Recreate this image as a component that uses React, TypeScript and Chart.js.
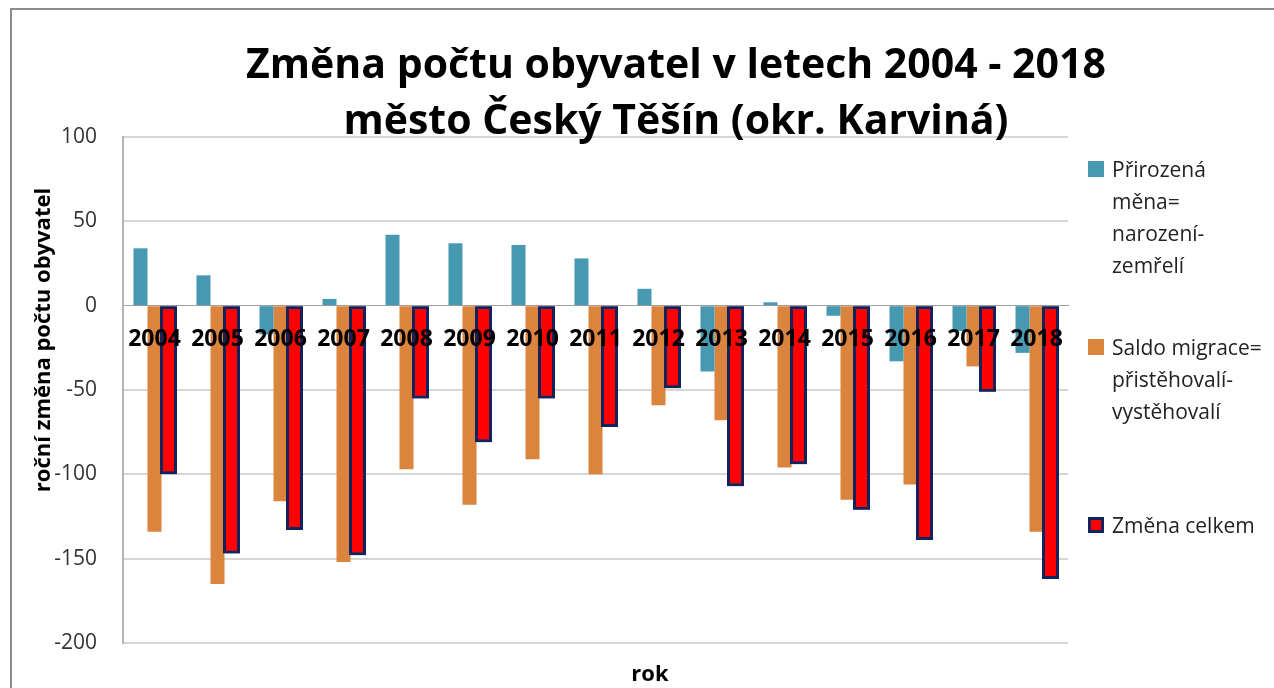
import React, { useEffect, useRef } from "react";
import { Chart, registerables } from "chart.js";

Chart.register(...registerables);

const years = ["2004", "2005", "2006", "2007", "2008", "2009", "2010", "2011", "2012", "2013", "2014", "2015", "2016", "2017", "2018"];
const natural = [34, 18, -17, 4, 42, 37, 36, 28, 10, -39, 2, -6, -33, -15, -28];
const migration = [-134, -165, -116, -152, -97, -118, -91, -100, -59, -68, -96, -115, -106, -36, -134];
const total = [-100, -147, -133, -148, -55, -81, -55, -72, -49, -107, -94, -121, -139, -51, -162];

const seriesNames = ["Přirozená měna= narození- zemřelí", "Saldo migrace= přistěhovalí- vystěhovalí", "Změna celkem"];
const legendLines = [
  ["Přirozená", "měna=", "narození-", "zemřelí"],
  ["Saldo migrace=", "přistěhovalí-", "vystěhovalí"],
  ["Změna celkem"],
];
const titleLines = ["Změna počtu obyvatel v letech 2004 - 2018", "město Český Těšín (okr. Karviná)"];
const yTitle = "roční změna počtu obyvatel";
const xTitle = "rok";

const TEAL = "#4798B1";
const ORANGE = "#DB843D";
const RED = "#FF0000";
const NAVY = "#10235E";
const FONT = "'Open Sans', 'DejaVu Sans', sans-serif";

const redrawTotal = {
  id: "redrawTotal",
  afterDatasetsDraw(chart: any) {
    const meta = chart.getDatasetMeta(2);
    if (meta && meta.controller) {
      const ctx = chart.ctx;
      ctx.save();
      meta.controller.draw();
      ctx.restore();
    }
  },
};

export default function App() {
  const ref = useRef<HTMLCanvasElement | null>(null);

  useEffect(() => {
    if (!ref.current) return;
    const chart = new Chart(ref.current, {
      type: "bar",
      data: {
        labels: years,
        datasets: [
          { label: seriesNames[0], data: natural, backgroundColor: TEAL, borderWidth: 0 },
          { label: seriesNames[1], data: migration, backgroundColor: ORANGE, borderWidth: 0 },
          {
            label: seriesNames[2],
            data: total,
            backgroundColor: RED,
            borderColor: NAVY,
            borderWidth: 3,
            borderSkipped: false,
            barPercentage: 1.22,
          },
        ],
      },
      options: {
        animation: false,
        responsive: false,
        maintainAspectRatio: false,
        categoryPercentage: 0.667,
        barPercentage: 1,
        layout: { padding: { top: 137, bottom: 45, left: 0, right: 206 } },
        plugins: {
          legend: { display: false },
          title: { display: false },
          tooltip: { enabled: false },
        },
        scales: {
          x: {
            position: { y: 0 } as any,
            grid: { display: false, drawTicks: false },
            border: { display: true, color: "#a0a0a0", width: 1 },
            ticks: {
              z: 1,
              color: "#000",
              padding: 20,
              font: { family: FONT, size: 23, weight: "bold" },
              maxRotation: 0,
              autoSkip: false,
            },
          },
          y: {
            min: -200,
            max: 100,
            afterFit(scale: any) {
              scale.width = 123;
            },
            ticks: {
              stepSize: 50,
              color: "#333",
              padding: 26,
              font: { family: FONT, size: 21 },
            },
            grid: {
              drawTicks: false,
              color: (c: any) => (c.tick && c.tick.value === 0 ? "#a0a0a0" : "#d6d6d6"),
              lineWidth: (c: any) => (c.tick && c.tick.value === 0 ? 1 : 2),
            },
            border: { display: true, color: "#b4b4b4", width: 2 },
          },
        },
      },
      plugins: [redrawTotal],
    });
    return () => chart.destroy();
  }, []);

  return (
    <div style={{ position: "fixed", left: 0, top: 0, width: 1274, height: 688, overflow: "hidden", background: "#fff", fontFamily: FONT }}>
      <div style={{ position: "absolute", left: 10, top: 8, width: 1290, height: 700, border: "2px solid #8c8c8c", boxSizing: "border-box" }} />
      <canvas ref={ref} width={1274} height={688} style={{ position: "absolute", left: 0, top: 0, width: 1274, height: 688 }} />
      <div style={{ position: "absolute", left: 0, top: 34, width: 1352, textAlign: "center", fontWeight: "bold", fontSize: 41, lineHeight: "56px", color: "#000" }}>
        {titleLines.map((t, i) => (
          <div key={i}>{t}</div>
        ))}
      </div>
      <div style={{ position: "absolute", left: 550, top: 656, width: 200, textAlign: "center", fontWeight: "bold", fontSize: 22, lineHeight: "32px", color: "#000" }}>
        {xTitle}
      </div>
      <div
        style={{
          position: "absolute",
          left: 41 - 250,
          top: 340 - 16,
          width: 500,
          height: 32,
          lineHeight: "32px",
          textAlign: "center",
          fontWeight: "bold",
          fontSize: 22,
          color: "#000",
          transform: "rotate(-90deg)",
        }}
      >
        {yTitle}
      </div>
      {legendLines.map((lines, i) => {
        const tops = [169, 347, 525];
        const colors = [TEAL, ORANGE, RED];
        return (
          <div key={i} style={{ position: "absolute", left: 1088, top: tops[i] - 16 }}>
            <div
              style={{
                position: "absolute",
                left: 0,
                top: 8,
                width: 16,
                height: 16,
                background: colors[i],
                border: i === 2 ? `3px solid ${NAVY}` : "none",
                boxSizing: "border-box",
              }}
            />
            <div style={{ position: "absolute", left: 24, top: 0, whiteSpace: "nowrap", fontSize: 21, lineHeight: "32px", color: "#222" }}>
              {lines.map((l, j) => (
                <div key={j}>{l}</div>
              ))}
            </div>
          </div>
        );
      })}
    </div>
  );
}
